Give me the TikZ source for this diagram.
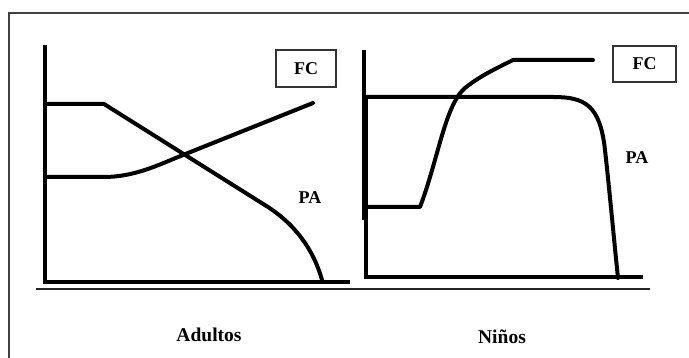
\documentclass[tikz,border=0pt]{standalone}
\usepackage{fontspec}
\setmainfont{Liberation Serif}
\begin{document}
\begin{tikzpicture}[x=1pt,y=-1pt,
  curve/.style={line width=4pt,line cap=round,line join=round},
  axis/.style={line width=4.5pt,line join=miter},
  legendbox/.style={draw=black!80,line width=1.5pt,minimum width=60pt,minimum height=37pt,inner sep=0pt,font=\fontsize{18}{20}\selectfont\bfseries},
  lbl/.style={inner sep=0pt,font=\fontsize{18}{20}\selectfont\bfseries},
  title/.style={inner sep=0pt,font=\fontsize{19.5}{22}\selectfont\bfseries}]
\useasboundingbox (0,0) rectangle (689,358);
% frame
\draw[line width=1.5pt,black!75] (9,358) -- (9,13) -- (689,13);
% baseline
\draw[line width=2pt,black!85] (36,289) -- (650,289);
% left panel axes
\draw[axis] (45,45) -- (45,282) -- (350,282);
% right panel axes
\draw[line width=4pt] (364,50) -- (364,220);
\draw[axis] (366,97) -- (366,277) -- (643,277);
% left curves
\draw[curve] (45,104) -- (104,104) -- (268,207) .. controls (300,228) and (315,255) .. (322,280);
\draw[curve] (45,177) -- (104,177) .. controls (135,177) and (160,164.2) .. (183,155) -- (313,103);
% right curves
\draw[curve] (364,97) -- (553,97) .. controls (585,97) and (600,105) .. (605,150) .. controls (610,195) and (614,240) .. (618,278);
\draw[curve] (364,207) -- (420,207) .. controls (438,160) and (445,105) .. (465,88) .. controls (480,76) and (495,69) .. (513,60) -- (593,60);
% labels
\node[legendbox] (fcL) at (306,68.5) {FC};
\node[legendbox,minimum width=63pt,minimum height=36pt] (fcR) at (644.5,64) {FC};
\node[lbl] (paL) at (310,198) {PA};
\node[lbl] (paR) at (637,158) {PA};
\node[title] (adultos) at (209,335) {Adultos};
\node[title] (ninos) at (502,337) {Niños};
\end{tikzpicture}
\end{document}
